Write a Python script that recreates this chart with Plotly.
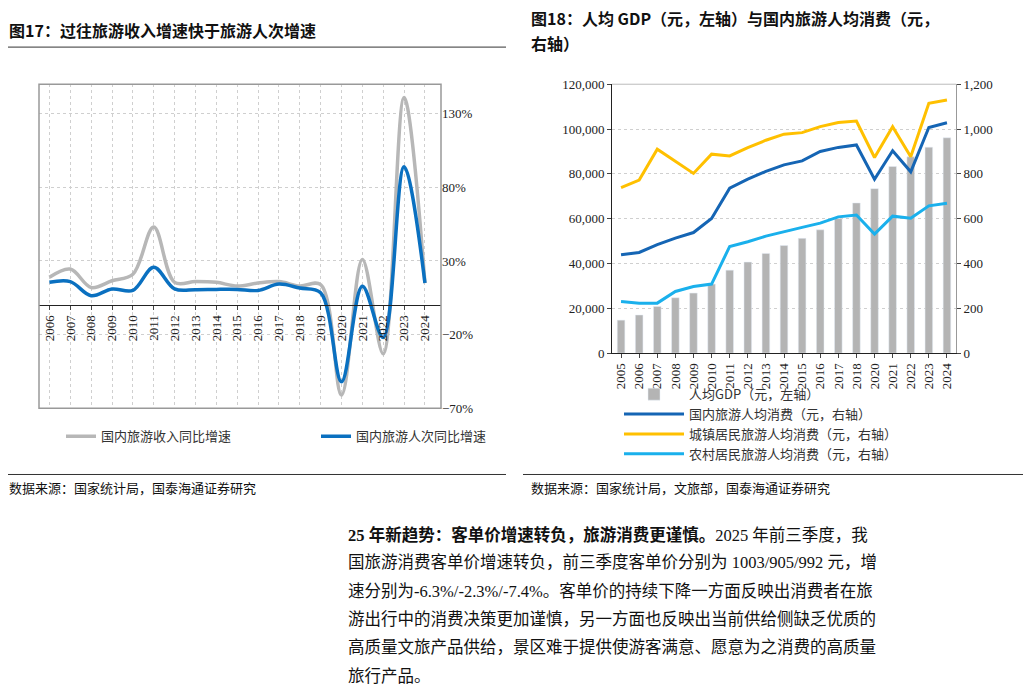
import plotly.graph_objects as go

W, H = 1031, 687
def px(x): return (x - 7) / W
def py(y): return 1 - ((y - 15) / 0.975) / H

# Left chart data
years_l = [str(y) for y in range(2006, 2025)]
income_growth = [18.9, 24.5, 12, 16.6, 21, 53, 15.5, 16, 15.5, 13, 15, 16, 13, 14, -61, 31, -33, 141, 15]
trips_growth = [15.5, 16, 6.4, 11, 10, 25.7, 11, 10.5, 10.7, 10.7, 10, 14.3, 11.6, 8.4, -52, 12.8, -22, 93.9, 15]

# Right chart data
years_r = [str(y) for y in list(range(2005, 2019)) + list(range(2020, 2025))]
gdp_pc = [14700, 17000, 20800, 24700, 26800, 30800, 37000, 40600, 44500, 48000, 51200, 55000, 60000, 67000, 73400, 83300, 87600, 91900, 96100]
spend_all = [439, 449, 484, 513, 538, 601, 736, 776, 811, 840, 858, 900, 918, 929, 776, 903, 809, 1007, 1028]
spend_urban = [739, 772, 910, 854, 802, 888, 880, 917, 950, 977, 984, 1011, 1029, 1036, 873, 1010, 876, 1115, 1130]
spend_rural = [230, 223, 223, 275, 297, 308, 476, 497, 522, 543, 561, 580, 608, 616, 531, 611, 602, 657, 669]

SERIF = "Liberation Serif, Noto Sans CJK SC"
CJK = "Noto Sans CJK SC"

fig = go.Figure()
fig.add_trace(go.Scatter(x=years_l, y=income_growth, mode="lines", line=dict(color="#b7b7b7", width=3.5, shape="spline"),
                         name="国内旅游收入同比增速", xaxis="x", yaxis="y", legend="legend"))
fig.add_trace(go.Scatter(x=years_l, y=trips_growth, mode="lines", line=dict(color="#0a70c0", width=3.5, shape="spline"),
                         name="国内旅游人次同比增速", xaxis="x", yaxis="y", legend="legend"))

fig.add_trace(go.Bar(x=years_r, y=gdp_pc, marker_color="#b4b4b4", width=0.42, name="人均GDP（元，左轴）",
                     xaxis="x2", yaxis="y2", legend="legend2"))
fig.add_trace(go.Scatter(x=years_r, y=spend_all, mode="lines", line=dict(color="#1565b4", width=3),
                         name="国内旅游人均消费（元，右轴）", xaxis="x2", yaxis="y3", legend="legend2"))
fig.add_trace(go.Scatter(x=years_r, y=spend_urban, mode="lines", line=dict(color="#ffc000", width=3),
                         name="城镇居民旅游人均消费（元，右轴）", xaxis="x2", yaxis="y3", legend="legend2"))
fig.add_trace(go.Scatter(x=years_r, y=spend_rural, mode="lines", line=dict(color="#1ab0ec", width=3),
                         name="农村居民旅游人均消费（元，右轴）", xaxis="x2", yaxis="y3", legend="legend2"))

tickfont = dict(family=SERIF, size=13, color="#222")
fig.update_layout(
    width=W, height=H, margin=dict(l=0, r=0, t=0, b=0),
    paper_bgcolor="white", plot_bgcolor="white", showlegend=True,
    xaxis=dict(domain=[px(38), px(440)], anchor="free", position=py(304), type="category",
               range=[-0.5, 18.77], tickangle=-90, tickfont=tickfont, showline=True, linecolor="#222",
               ticks="outside", ticklen=4, showgrid=True, gridcolor="#cfcfcf", griddash="dot", zeroline=False),
    yaxis=dict(domain=[py(407), py(84)], anchor="x", side="right", range=[-70, 150], tick0=-70, dtick=50,
               ticksuffix="%", tickfont=tickfont, showgrid=True, gridcolor="#cfcfcf", griddash="dot",
               zeroline=False, showline=False),
    xaxis2=dict(domain=[px(611), px(955)], anchor="y2", type="category", tickangle=-90, tickfont=tickfont,
                showline=True, linecolor="#222", ticks="outside", ticklen=4, showgrid=False),
    yaxis2=dict(domain=[py(352), py(84)], anchor="x2", range=[0, 120000], dtick=20000, tickformat=",",
                tickfont=tickfont, showline=True, linecolor="#222", ticks="outside", ticklen=4,
                showgrid=True, gridcolor="#cfcfcf", griddash="dot", zeroline=False),
    yaxis3=dict(overlaying="y2", anchor="x2", side="right", range=[0, 1200], dtick=200, tickformat=",",
                tickfont=tickfont, showline=True, linecolor="#999", ticks="outside", ticklen=4,
                showgrid=False, zeroline=False),
    legend=dict(orientation="h", x=px(60), y=py(420), xanchor="left", yanchor="top",
                font=dict(family=CJK, size=13, color="#333"), entrywidth=210, bgcolor="rgba(0,0,0,0)"),
    legend2=dict(orientation="v", x=px(618), y=py(378), xanchor="left", yanchor="top",
                 font=dict(family=CJK, size=13, color="#333"), tracegroupgap=0, itemwidth=60, bgcolor="rgba(0,0,0,0)"),
)

shapes = [
    dict(type="rect", xref="paper", yref="paper", x0=px(38), x1=px(440), y0=py(407), y1=py(84),
         line=dict(color="#999", width=1.5)),
    dict(type="line", xref="paper", yref="paper", x0=px(611), x1=px(955), y0=py(84), y1=py(84),
         line=dict(color="#bbb", width=1)),
    dict(type="line", xref="paper", yref="paper", x0=0, x1=px(505), y0=py(47), y1=py(47), line=dict(color="#333", width=1)),
    dict(type="line", xref="paper", yref="paper", x0=0, x1=px(505), y0=py(473), y1=py(473), line=dict(color="#333", width=1)),
    dict(type="line", xref="paper", yref="paper", x0=px(522), x1=1, y0=py(473), y1=py(473), line=dict(color="#333", width=1)),
]
fig.update_layout(shapes=shapes)

ann = []
def text(x, y, s, size=15, bold=False, family=CJK, color="#111"):
    ann.append(dict(xref="paper", yref="paper", x=px(x), y=py(y), xanchor="left", yanchor="middle", showarrow=False,
                    text=("<b>%s</b>" % s) if bold else s, font=dict(family=family, size=size, color=color)))

text(6, 30, "图17：过往旅游收入增速快于旅游人次增速", 16, True)
text(528, 18, "图18：人均 GDP（元，左轴）与国内旅游人均消费（元，", 16, True)
text(528, 43, "右轴）", 16, True)
text(6, 486, "数据来源：国家统计局，国泰海通证券研究", 13)
text(528, 486, "数据来源：国家统计局，文旅部，国泰海通证券研究", 13)

para = [
    "<b>25 年新趋势：客单价增速转负，旅游消费更谨慎。</b>2025 年前三季度，我",
    "国旅游消费客单价增速转负，前三季度客单价分别为 1003/905/992 元，增",
    "速分别为-6.3%/-2.3%/-7.4%。客单价的持续下降一方面反映出消费者在旅",
    "游出行中的消费决策更加谨慎，另一方面也反映出当前供给侧缺乏优质的",
    "高质量文旅产品供给，景区难于提供使游客满意、愿意为之消费的高质量",
    "旅行产品。",
]
for i, line in enumerate(para):
    text(345, 533 + i * 28.2, line, 16.5, family=SERIF)

fig.update_layout(annotations=ann, bargap=0.5)
fig.write_html("out.html")
